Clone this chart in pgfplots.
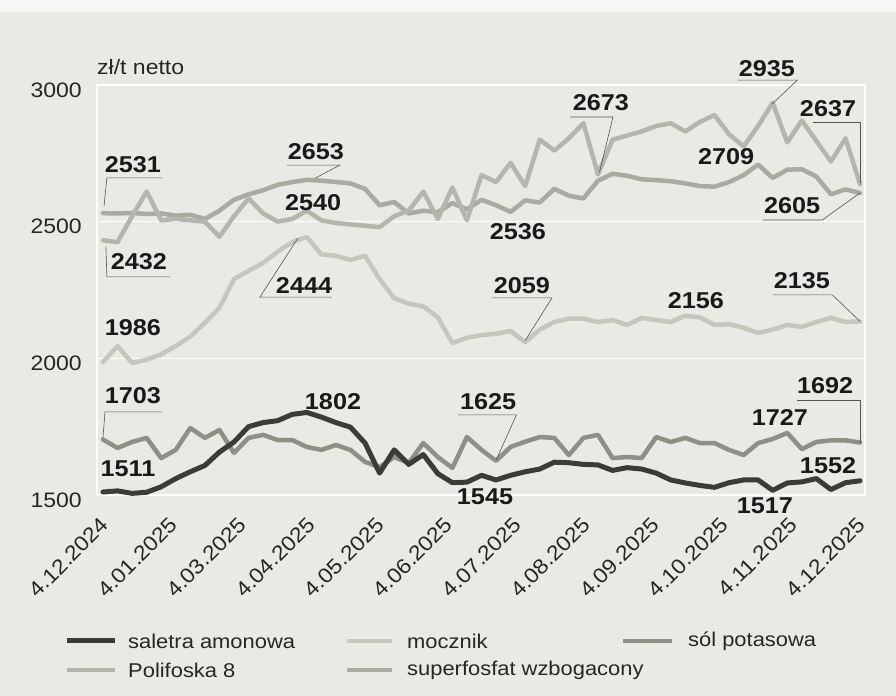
\documentclass[border=0pt]{standalone}
\usepackage{pgfplots}
\pgfplotsset{compat=1.18}
\usepackage{pgfplotstable}
\usepackage{fontspec}
\setmainfont{Liberation Sans}[FakeStretch=1.1]

\definecolor{bg}{HTML}{E9E9E6}
\definecolor{cSal}{HTML}{3C3B37}
\definecolor{cMoc}{HTML}{C6C6BE}
\definecolor{cPol}{HTML}{B4B5AC}
\definecolor{cSup}{HTML}{A9AAA1}
\definecolor{cSol}{HTML}{8E9087}
\definecolor{lead}{HTML}{55554F}

% tydzien, saletra, mocznik, sol potasowa, Polifoska 8, superfosfat
\pgfplotstableread{
w  sal  moc  sol  pol  sup
0  1511 1986 1703 2432 2531
1  1515 2045 1672 2425 2530
2  1506 1983 1694 2520 2532
3  1510 1995 1709 2610 2528
4  1530 2015 1635 2505 2530
5  1560 2045 1665 2510 2522
6  1585 2080 1745 2505 2525
7  1608 2130 1709 2500 2510
8  1657 2185 1738 2445 2540
9  1694 2290 1654 2520 2580
10 1750 2320 1709 2585 2600
11 1765 2349 1720 2530 2615
12 1772 2390 1701 2500 2635
13 1795 2425 1701 2510 2645
14 1802 2444 1676 2540 2653
15 1785 2380 1665 2505 2650
16 1765 2375 1683 2495 2645
17 1748 2360 1665 2490 2640
18 1690 2375 1621 2485 2620
19 1580 2290 1602 2480 2560
20 1665 2220 1639 2520 2572
21 1612 2200 1617 2540 2530
22 1648 2190 1690 2610 2540
23 1578 2150 1639 2510 2535
24 1545 2056 1599 2625 2568
25 1547 2075 1712 2505 2545
26 1572 2085 1665 2670 2580
27 1555 2090 1625 2645 2560
28 1572 2100 1676 2715 2536
29 1585 2059 1695 2630 2578
30 1595 2105 1712 2800 2570
31 1620 2133 1709 2760 2620
32 1618 2145 1646 2805 2595
33 1612 2145 1709 2860 2585
34 1610 2133 1720 2673 2650
35 1590 2140 1635 2800 2675
36 1600 2122 1639 2815 2668
37 1595 2148 1635 2830 2655
38 1580 2140 1712 2850 2652
39 1555 2133 1694 2860 2648
40 1544 2156 1709 2830 2640
41 1535 2150 1690 2865 2630
42 1528 2122 1690 2890 2628
43 1545 2125 1665 2820 2645
44 1555 2112 1646 2775 2670
45 1555 2093 1690 2850 2709
46 1517 2105 1705 2935 2660
47 1544 2122 1727 2790 2690
48 1548 2115 1668 2870 2692
49 1560 2133 1694 2795 2665
50 1520 2148 1700 2720 2600
51 1545 2133 1700 2805 2618
52 1552 2135 1692 2637 2605
}\dane

\begin{document}
\begin{tikzpicture}[
  lbl/.style={font=\bfseries\fontsize{23}{25}\selectfont, text=black!90, inner sep=0pt},
  ld/.style={draw=lead, line width=0.6bp},
]
\fill[bg] (0,0) rectangle (896bp,696bp);
\fill[black!3] (0,684bp) rectangle (896bp,696bp);

\begin{axis}[
  at={(97bp,201bp)}, anchor=south west,
  width=768bp, height=410bp, scale only axis,
  xmin=-0.41, xmax=52.34, ymin=1500, ymax=3000,
  ytick={1500,2000,2500,3000},
  xtick={0,4.7273,9.4545,14.1818,18.9091,23.6364,28.3636,33.0909,37.8182,42.5455,47.2727,52},
  xticklabels={4.12.2024,4.01.2025,4.03.2025,4.04.2025,4.05.2025,4.06.2025,4.07.2025,4.08.2025,4.09.2025,4.10.2025,4.11.2025,4.12.2025},
  axis line style={white, line width=1.5bp},
  ymajorgrids, grid style={white, line width=1.5bp},
  major tick length=0pt, tick style={draw=none},
  /pgf/number format/assume math mode=true,
  /pgf/number format/1000 sep={},
  ticklabel style={font=\fontsize{21}{24}\selectfont, text=black!85, inner sep=0pt},
  yticklabel style={anchor=east, xshift=-15bp, yshift=-5bp},
  xticklabel style={anchor=east, xshift=2bp, yshift=-26bp, rotate=45},
  clip=false,
  every axis plot/.append style={line join=round, line cap=round},
]
\addplot[cMoc, line width=4.5bp] table[x=w, y=moc] {\dane};
\addplot[cSup, line width=4.5bp] table[x=w, y=sup] {\dane};
\addplot[cPol, line width=4.5bp] table[x=w, y=pol] {\dane};
\addplot[cSol, line width=4.5bp] table[x=w, y=sol] {\dane};
\addplot[cSal, line width=5bp] table[x=w, y=sal] {\dane};

% etykiety wartosci
\node[lbl] at (axis cs:2.06,2707) {2531};
\draw[ld] (axis cs:4.05,2660) -- (axis cs:0.27,2660) -- (axis cs:0.07,2556);
\node[lbl] at (axis cs:2.47,2352) {2432};
\draw[ld] (axis cs:4.6,2298) -- (axis cs:0.27,2298) -- (axis cs:0.2,2410);
\node[lbl] at (axis cs:14.63,2755) {2653};
\draw[ld] (axis cs:12.64,2707) -- (axis cs:16.28,2707) -- (axis cs:14.6,2660);
\node[lbl] at (axis cs:14.43,2568) {2540};
\node[lbl] at (axis cs:13.81,2268) {2444};
\draw[ld] (axis cs:15.73,2224) -- (axis cs:10.78,2224) -- (axis cs:13.39,2440);
\node[lbl] at (axis cs:2.06,2111) {1986};
\node[lbl] at (axis cs:2.06,1862) {1703};
\draw[ld] (axis cs:4.05,1804) -- (axis cs:0.14,1804) -- (axis cs:0,1709);
\node[lbl] at (axis cs:1.72,1595) {1511};
\node[lbl] at (axis cs:15.8,1840) {1802};
\node[lbl] at (axis cs:34.2,2934) {2673};
\draw[ld] (axis cs:32.08,2883) -- (axis cs:35.03,2883) -- (axis cs:34.1,2680);
\node[lbl] at (axis cs:28.5,2462) {2536};
\node[lbl] at (axis cs:28.78,2265) {2059};
\draw[ld] (axis cs:26.7,2221) -- (axis cs:30.84,2221) -- (axis cs:29.0,2065);
\node[lbl] at (axis cs:42.8,2737) {2709};
\node[lbl] at (axis cs:45.6,3059) {2935};
\draw[ld] (axis cs:43.6,3018) -- (axis cs:47.7,3018) -- (axis cs:45.95,2930);
\node[lbl] at (axis cs:49.8,2912) {2637};
\draw[ld] (axis cs:48.77,2865) -- (axis cs:52,2865) -- (axis cs:52,2640);
\node[lbl] at (axis cs:47.33,2557) {2605};
\draw[ld] (axis cs:45.3,2506) -- (axis cs:49.4,2506) -- (axis cs:52,2605);
\node[lbl] at (axis cs:40.73,2210) {2156};
\node[lbl] at (axis cs:48.0,2283) {2135};
\draw[ld] (axis cs:46,2232) -- (axis cs:50.1,2232) -- (axis cs:52,2135);
\node[lbl] at (axis cs:26.45,1840) {1625};
\draw[ld] (axis cs:24.4,1793) -- (axis cs:28.4,1793) -- (axis cs:27.0,1628);
\node[lbl] at (axis cs:26.24,1493) {1545};
\node[lbl] at (axis cs:46.5,1785) {1727};
\node[lbl] at (axis cs:49.6,1899) {1692};
\draw[ld] (axis cs:47.7,1848) -- (axis cs:52,1848) -- (axis cs:52,1692);
\node[lbl] at (axis cs:49.8,1606) {1552};
\node[lbl] at (axis cs:45.47,1460) {1517};
\end{axis}

\node[anchor=west, inner sep=0pt, font=\fontsize{21}{23}\selectfont, text=black!85] at (97bp,629bp) {zł/t netto};

% legenda
\begin{scope}[every node/.style={anchor=west, inner sep=0pt, font=\fontsize{20}{23}\selectfont, text=black!85}]
\draw[cSal, line width=5bp] (67bp,55bp) -- (115bp,55bp);
\node at (128bp,55bp) {saletra amonowa};
\draw[cMoc, line width=4.5bp] (347bp,55bp) -- (392bp,55bp);
\node at (407bp,55bp) {mocznik};
\draw[cSol, line width=4.5bp] (623bp,55bp) -- (672bp,55bp);
\node at (688bp,55bp) {sól potasowa};
\draw[cPol, line width=4.5bp] (67bp,26bp) -- (115bp,26bp);
\node at (128bp,26bp) {Polifoska 8};
\draw[cSup, line width=4.5bp] (347bp,26bp) -- (392bp,26bp);
\node at (407bp,26bp) {superfosfat wzbogacony};
\end{scope}
\end{tikzpicture}
\end{document}
